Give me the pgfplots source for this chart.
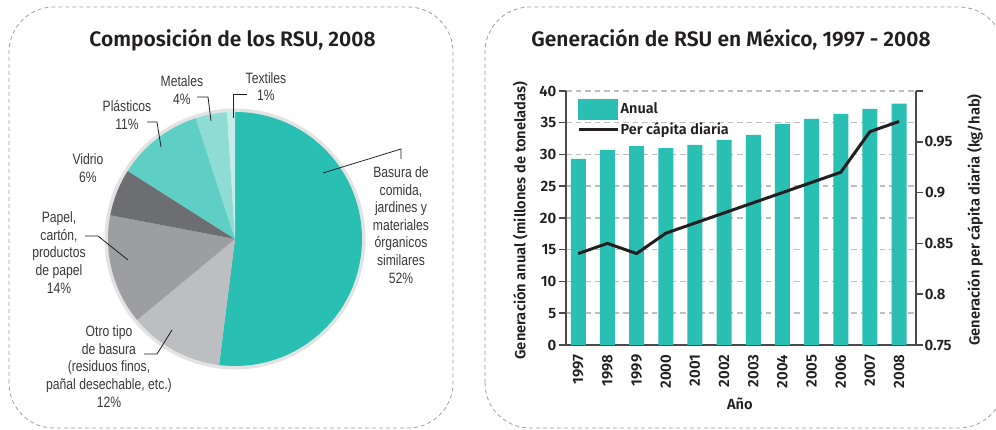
\documentclass[border=0pt]{standalone}
\usepackage{fontspec}
\setmainfont{Fira Sans}
\newfontfamily\fsb{Fira Sans SemiBold}
\newfontfamily\narrow{Liberation Sans}[FakeStretch=0.81]
\usepackage{pgfplots}
\pgfplotsset{compat=1.18}
\definecolor{cteal}{HTML}{2ABFB3}
\definecolor{cplast}{HTML}{5FCEC5}
\definecolor{cmetal}{HTML}{8FDCD5}
\definecolor{ctext}{HTML}{231F20}
\definecolor{ctextil}{HTML}{C3EDE9}
\definecolor{cvidrio}{HTML}{6D6E72}
\definecolor{cpapel}{HTML}{9D9EA2}
\definecolor{cotro}{HTML}{BDBEC1}
\definecolor{cring}{HTML}{E3E3E3}
\definecolor{cax}{HTML}{4A4A4A}
\definecolor{cgrid}{HTML}{BEBEBE}
\definecolor{cpanel}{HTML}{A0A0A0}
\definecolor{clab}{HTML}{383838}
\begin{document}
\begin{tikzpicture}
% panels
\draw[cpanel, line width=0.8bp, dash pattern=on 4bp off 3bp, rounded corners=45bp] (9bp,2bp) rectangle (453bp,423bp);
\draw[cpanel, line width=0.8bp, dash pattern=on 4bp off 3bp, rounded corners=45bp] (485bp,2bp) rectangle (1004bp,423bp);
% titles
\node[anchor=base, text=ctext, font=\fsb\fontsize{21bp}{24bp}\selectfont, inner sep=0pt] at (232.5bp,383bp) {Composición de los RSU, 2008};
\node[anchor=base, text=ctext, font=\fsb\fontsize{21bp}{24bp}\selectfont, inner sep=0pt] at (731bp,383bp) {Generación de RSU en México, 1997 - 2008};

% pie chart
\begin{axis}[at={(235bp,191bp)}, anchor=center, scale only axis, width=262bp, height=262bp,
  hide axis, xmin=-1.0315, xmax=1.0315, ymin=-1.0315, ymax=1.0315]
\pgfplotsextra{
  \fill[cring] (axis cs:0,0) circle[radius=130.5bp];
  \gdef\curang{90}
  \foreach \v/\c in {52/cteal,12/cotro,14/cpapel,6/cvidrio,11/cplast,4/cmetal,1/ctextil}{
    \pgfmathsetmacro\endang{\curang-3.6*\v}
    \fill[\c] (axis cs:0,0) -- ++(\curang:127bp) arc[start angle=\curang, end angle=\endang, radius=127bp] -- cycle;
    \xdef\curang{\endang}
  }
}
\end{axis}
% leader lines
\begin{scope}[draw=ctext, line width=0.8bp]
\draw (233bp,312bp) -- (233bp,336bp) -- (247bp,336bp);
\draw (211bp,309bp) -- (208bp,333bp) -- (197bp,333bp);
\draw (161bp,283bp) -- (157bp,308bp) -- (147bp,308bp);
\draw (128bp,170bp) -- (98bp,194bp) -- (85bp,194bp);
\draw (172bp,100bp) -- (157bp,76bp) -- (144bp,76bp);
\draw (323bp,257bp) -- (401bp,281bp) -- (401bp,271bp);
\end{scope}
\begin{scope}[every node/.style={align=center, text=clab, inner sep=0pt, font=\narrow\fontsize{15bp}{17.6bp}\selectfont}]
\node at (266bp,343.5bp) {Textiles\\1\%};
\node at (182bp,340bp) {Metales\\4\%};
\node at (127bp,315bp) {Plásticos\\11\%};
\node at (88bp,262bp) {Vidrio\\6\%};
\node at (59bp,177.5bp) {Papel,\\cartón,\\productos\\de papel\\14\%};
\node at (109bp,63.5bp) {Otro tipo\\de basura\\(residuos finos,\\pañal desechable, etc.)\\12\%};
\node at (401bp,205bp) {Basura de\\comida,\\jardines y\\materiales\\órganicos\\similares\\52\%};
\end{scope}

% bar chart
\begin{axis}[
  at={(566bp,85bp)}, anchor=south west, scale only axis,
  width=350bp, height=254bp,
  xmin=-0.42, xmax=11.58, ymin=0, ymax=40,
  axis x line*=bottom, axis y line*=left,
  axis line style={cax, line width=1.8bp},
  xtick=data,
  xticklabels={1997,1998,1999,2000,2001,2002,2003,2004,2005,2006,2007,2008},
  ytick={0,5,...,40},
  /pgf/number format/assume math mode=true,
  major tick length=7bp, tick align=outside,
  xtick style={draw=none},
  ytick style={cax, line width=1.5bp},
  ymajorgrids, grid style={cgrid, line width=1.5bp, dash pattern=on 5.5bp off 4bp},
  ticklabel style={font=\fsb\fontsize{15bp}{17bp}\selectfont, text=ctext},
  yticklabel style={inner sep=2.5bp},
  xticklabel style={rotate=90, anchor=east, inner sep=2.5bp},
  every axis y label/.style={at={(axis description cs:-0.131,0.49)}, rotate=90, anchor=center, font=\fsb\fontsize{14.7bp}{16bp}\selectfont, text=ctext},
  ylabel={Generación anual (millones de toneladas)},
  every axis x label/.style={at={(axis description cs:0.497,-0.232)}, anchor=center, font=\fsb\fontsize{14.7bp}{16bp}\selectfont, text=ctext},
  xlabel={Año},
  ybar, bar width=15bp,
]
\addplot[fill=cteal, draw=none] coordinates {(0,29.3) (1,30.7) (2,31.3) (3,31.0) (4,31.5) (5,32.3) (6,33.1) (7,34.8) (8,35.6) (9,36.4) (10,37.2) (11,38.0)};
\end{axis}
\begin{axis}[
  at={(566bp,85bp)}, anchor=south west, scale only axis,
  width=350bp, height=254bp,
  xmin=-0.42, xmax=11.58, ymin=0.75, ymax=1.0,
  axis x line=none, axis y line*=right,
  axis line style={cax, line width=1.8bp},
  ytick={0.75,0.8,0.85,0.9,0.95,1},
  yticklabels={0.75,0.8,0.85,0.9,0.95,{}},
  major tick length=7bp, tick align=outside,
  ytick style={cax, line width=1.5bp},
  ticklabel style={font=\fsb\fontsize{15bp}{17bp}\selectfont, text=ctext},
  yticklabel style={text width=2.1em, align=center, inner sep=1.5bp},
  every axis y label/.style={at={(axis description cs:1.1686,0.492)}, rotate=90, anchor=center, font=\fsb\fontsize{14.7bp}{16bp}\selectfont, text=ctext},
  ylabel={Generación per cápita diaria (kg/hab)},
  legend style={draw=none, fill=none, inner sep=0pt, at={(axis description cs:0.0314,0.97)}, anchor=north west,
    font=\fsb\fontsize{14.5bp}{16bp}\selectfont, text=ctext, row sep=2bp, column sep=0pt,
    nodes={inner sep=1.5bp}},
  legend cell align=left,
]
\addlegendimage{legend image code/.code={\fill[cteal] (0bp,-10bp) rectangle (39bp,10bp);}}
\addlegendentry{Anual}
\addplot[ctext, line width=3bp, line join=round,
  legend image code/.code={\draw[ctext, line width=3bp] (0bp,0bp) -- (39bp,0bp);}]
  coordinates {(0,0.84) (1,0.85) (2,0.84) (3,0.86) (4,0.87) (5,0.88) (6,0.89) (7,0.90) (8,0.91) (9,0.92) (10,0.96) (11,0.97)};
\addlegendentry{Per cápita diaria}
\end{axis}
\pgfresetboundingbox
\useasboundingbox (0,0) rectangle (996bp,430bp);
\end{tikzpicture}
\end{document}
